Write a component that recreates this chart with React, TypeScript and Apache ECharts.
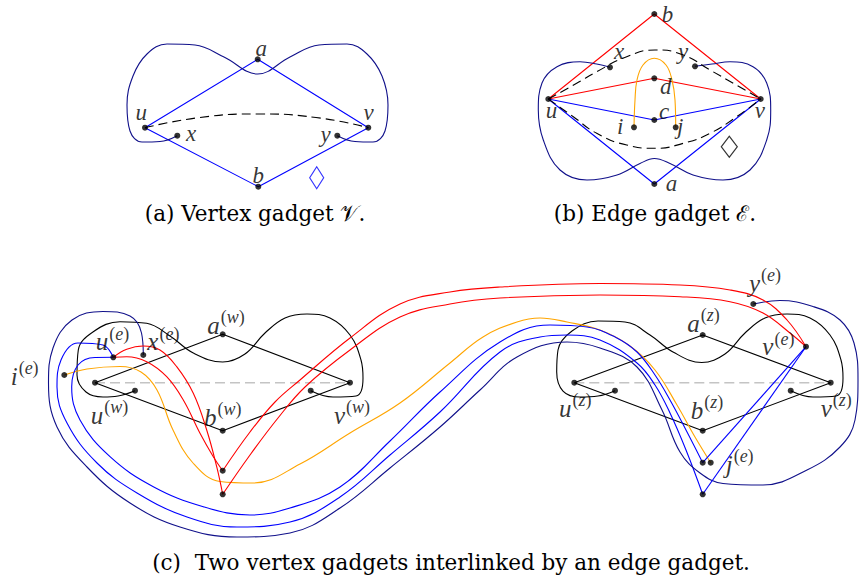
import React, { useEffect, useRef } from "react";
import * as echarts from "echarts";

type P = [number, number];

// ---------- Panel (a): vertex gadget ----------
const aDots: P[] = [[257.7, 59.3], [145, 127.7], [368.3, 127.7], [258.3, 186.7], [177.3, 135.7], [337.3, 135.7]];
const aRhombus: P[] = [[145, 127.7], [257.7, 59.3], [368.3, 127.7], [258.3, 186.7], [145, 127.7]];
const aLoop: P[] = [[177.3, 135.7], [160, 141.5], [142, 142], [130, 131], [127, 105], [133, 76], [147, 54], [167, 44], [195, 45], [224, 57], [257.7, 74], [290, 57], [319, 45], [347, 44], [367, 54], [382, 76], [388, 105], [385, 131], [373, 142], [355, 141.5], [337.3, 135.7]];
const aDash: P[] = [[145, 127.7], [200, 117.5], [258, 114], [316, 117.5], [368.3, 127.7]];
const aMarker: P[] = [[316.7, 177.7]];
const aLabels: [string, string, number, number][] = [["a", "", 261.5, 48.5], ["u", "", 141.5, 112], ["v", "", 369.5, 112], ["x", "", 192, 133], ["y", "", 326.5, 134], ["b", "", 258.5, 175.5]];

// ---------- Panel (b): edge gadget ----------
const bDots: P[] = [[654.3, 14], [610, 67.3], [695, 66.3], [654.3, 78.3], [548.3, 99], [760.7, 99], [654.3, 120], [634, 127.3], [675.7, 127.3], [654.3, 184]];
const bRed1: P[] = [[548.3, 99], [654.3, 14], [760.7, 99]];
const bRed2: P[] = [[548.3, 99], [654.3, 78.3], [760.7, 99]];
const bBlue1: P[] = [[548.3, 99], [654.3, 120], [760.7, 99]];
const bBlue2: P[] = [[548.3, 99], [654.3, 184], [760.7, 99]];
const bLoop: P[] = [[610, 67.3], [596.7, 64], [580, 61.7], [557, 66.7], [542, 83], [538.3, 110], [543.3, 140], [560, 170], [587, 180], [617, 175], [640, 163.5], [654.3, 158.5], [670, 163.5], [693, 175], [723, 180], [750, 170], [766.7, 140], [770.7, 110], [766.7, 83], [753, 66.7], [730, 61.7], [712, 64], [695, 66.3]];
const bDashUp: P[] = [[548.3, 99], [576.7, 83.3], [596.7, 71.7], [626.7, 56.7], [655, 50], [683.3, 55], [710, 70], [733.3, 83.3], [760.7, 99]];
const bDashDown: P[] = [[548.3, 99], [573.3, 116.7], [596.7, 133.3], [626.7, 145], [655, 148.3], [683.3, 143.3], [710, 133.3], [736.7, 116.7], [760.7, 99]];
const bOrange: P[] = [[634, 127.3], [635, 100], [637, 80], [643, 65], [654.3, 58.3], [666, 65], [672, 80], [675, 100], [675.7, 127.3]];
const bMarker: P[] = [[729.3, 146.7]];
const bLabels: [string, string, number, number][] = [["b", "", 667.7, 14], ["x", "", 620, 51.7], ["y", "", 684, 51.7], ["d", "", 666, 86], ["c", "", 665, 111.5], ["u", "", 551.7, 110], ["v", "", 760.7, 110], ["i", "", 623, 126.7], ["j", "", 683, 126.7], ["a", "", 671.7, 183.3]];

// ---------- Panel (c): two vertex gadgets + edge gadget ----------
const cDots: P[] = [
  [222.7, 334.3], [95, 382.7], [350, 382.7], [222.7, 430.7], [135, 390.7], [310.7, 390.7],
  [113.3, 357.3], [143.3, 355], [64.3, 375], [222.7, 470.7], [222.7, 494.3],
  [702.7, 335], [574.3, 382.7], [830.7, 382.7], [702.7, 430.7], [615, 390.7], [790.7, 390.7],
  [753.3, 304], [806, 346.7], [702.7, 462.7], [710.7, 462.7], [702.7, 494.3],
];
const cRhombusW: P[] = [[95, 382.7], [222.7, 334.3], [350, 382.7], [222.7, 430.7], [95, 382.7]];
const cRhombusZ: P[] = [[574.3, 382.7], [702.7, 335], [830.7, 382.7], [702.7, 430.7], [574.3, 382.7]];
const cGrayW: P[] = [[95, 382.7], [350, 382.7]];
const cGrayZ: P[] = [[574.3, 382.7], [830.7, 382.7]];
const cLoopW: P[] = [[135, 390.7], [118, 396], [103, 397], [86, 392], [77, 375], [78.3, 350], [93.3, 331.7], [120, 321.7], [146.7, 323.3], [170, 336], [193.3, 353], [222.7, 362], [245, 354], [265, 333], [285, 318], [307, 314], [330, 318], [350, 335], [361, 360], [363, 378], [356, 396], [333, 397], [310.7, 390.7]];
const cLoopZ: P[] = [[615, 390.7], [598, 396], [580, 397], [563, 391], [556.7, 372], [558, 350], [572, 331], [598, 321], [625, 322], [650, 335], [673, 352], [701.7, 362.5], [725, 354], [745, 333], [765, 318], [787, 314], [810, 318], [830, 335], [841, 360], [843, 378], [836, 396], [813, 397], [790.7, 390.7]];
const cOrange: P[] = [[64.3, 375], [87, 369], [120, 366.5], [141, 372], [157, 390], [173, 430], [193, 463], [220, 481.5], [253, 483], [300, 464], [350, 433], [400, 403], [450, 363], [483, 337], [517, 322], [540, 318], [567, 322], [600, 330], [630, 346], [655, 370], [677, 405], [695, 437], [710.7, 462.7]];
const cBlueInner: P[] = [[113.3, 357.3], [95, 357.5], [78, 365], [71.7, 386.7], [80, 420], [110, 456.7], [153.3, 486.7], [203.3, 506.7], [250, 515], [290, 508], [340, 487], [390, 441], [440, 392], [500, 342], [550, 325], [587, 327], [615, 337], [637, 352], [655, 375], [670, 400], [686, 430], [702.7, 462.7]];
const cBlueOuter: P[] = [[113.3, 357.3], [103, 345], [78, 343], [61, 360], [57, 387], [67, 423], [97, 463], [137, 493], [187, 517], [237, 527], [290, 522], [340, 497], [390, 455], [440, 412], [500, 352], [540, 337], [567, 335], [600, 340], [637, 363], [655, 385], [670, 413], [686, 450], [702.7, 494.3]];
const cNavy: P[] = [[143.3, 355], [141.5, 333], [130, 316], [103, 311.5], [72, 320], [53, 348], [48.5, 383], [57, 427], [87, 467], [130, 503], [180, 527], [237, 537], [290, 533], [340, 508], [390, 468], [440, 427], [480, 390], [517, 357], [567, 342], [600, 348], [637, 367], [662, 410], [680, 452], [700, 473], [723, 483.5], [763, 485], [807, 470], [840, 447], [855, 420], [858, 380], [854, 343], [840, 320], [813, 306.5], [780, 300.5], [753.3, 304]];
const cRedA: P[] = [[113.3, 357.3], [126.7, 356.7], [146.7, 361.7], [166.7, 376.7], [183.3, 400], [200, 433.3], [213.3, 456.7], [222.7, 470.7]];
const cRedB: P[] = [[113.3, 357.3], [126.7, 349.3], [143.3, 346], [160, 350], [176.7, 366.7], [193.3, 393.3], [206.7, 430], [216.7, 466.7], [222.7, 494.3]];
const cRedC: P[] = [[222.7, 470.7], [250, 432], [275, 402], [300, 380], [350, 338], [400, 304], [450, 292], [500, 287], [600, 283.5], [680, 285], [730, 290], [763, 300], [787, 320], [806, 346.7]];
const cRedD: P[] = [[222.7, 494.3], [250, 455], [278, 418], [305, 387], [350, 350], [400, 317], [450, 304], [500, 298], [600, 295], [680, 296.7], [730, 301.7], [763, 313], [790, 333], [806, 346.7]];
const cBlueLine1: P[] = [[806, 346.7], [702.7, 462.7]];
const cBlueLine2: P[] = [[806, 346.7], [702.7, 494.3]];
const cLabels: [string, string, number, number][] = [
  ["a", "w", 213.3, 325], ["u", "e", 101.7, 341.7], ["x", "e", 153.3, 341.7], ["i", "e", 16.7, 376],
  ["u", "w", 96.7, 415], ["b", "w", 210, 417], ["v", "w", 340, 415],
  ["a", "z", 693.3, 323.3], ["v", "e", 768.3, 346.7], ["y", "e", 755, 283], ["u", "z", 565, 408.3],
  ["b", "z", 696.7, 410], ["v", "z", 826.7, 408.3], ["j", "e", 731.7, 464],
];

const BLUE = "#0000ff";
const RED = "#ff0000";
const ORANGE = "#ffa500";
const NAVY = "#10108a";
const LFONT = "Liberation Serif, Times New Roman, serif";
const CFONT = "DejaVu Serif, Liberation Serif, serif";

function line(data: P[], color: string, smooth: number | false = false, dash: number[] | null = null, width = 1.1, z = 2) {
  return {
    type: "line",
    data,
    smooth,
    symbol: "none",
    showSymbol: false,
    silent: true,
    clip: false,
    z,
    lineStyle: { color, width, type: dash ? dash : "solid", cap: "butt" },
  };
}

function dots(data: P[]) {
  return { type: "scatter", data, symbol: "circle", symbolSize: 6, itemStyle: { color: "#000" }, z: 10, silent: true };
}

function marker(data: P[], color: string, size: [number, number]) {
  return {
    type: "scatter",
    data,
    symbol: "diamond",
    symbolSize: size,
    itemStyle: { color: "rgba(0,0,0,0)", borderColor: color, borderWidth: 1.2 },
    z: 10,
    silent: true,
  };
}

function labels(list: [string, string, number, number][]) {
  return {
    type: "scatter",
    symbolSize: 0,
    silent: true,
    z: 12,
    data: list.map((l) => ({ value: [l[2], l[3]], t: l[0], s: l[1] })),
    label: {
      show: true,
      position: "right",
      distance: 0,
      offset: [-6, 0],
      formatter: (p: any) => {
        const d = p.data;
        return d.s ? `{m|${d.t}}{p|(}{q|${d.s}}{r|)}` : `{n|${d.t}}`;
      },
      rich: {
        n: { fontFamily: LFONT, fontStyle: "italic", fontSize: 23, lineHeight: 18, color: "#000" },
        m: { fontFamily: LFONT, fontStyle: "italic", fontSize: 25, lineHeight: 34, color: "#000" },
        p: { fontFamily: LFONT, fontSize: 18, lineHeight: 18, verticalAlign: "top", color: "#000", padding: [0, 0, 0, 1] },
        q: { fontFamily: LFONT, fontStyle: "italic", fontSize: 18, lineHeight: 18, verticalAlign: "top", color: "#000" },
        r: { fontFamily: LFONT, fontSize: 18, lineHeight: 18, verticalAlign: "top", color: "#000" },
      },
    },
  };
}

export default function App() {
  const ref = useRef<HTMLDivElement>(null);
  useEffect(() => {
    const chart = echarts.init(ref.current!, null, { renderer: "svg" });
    const capStyle = { fontFamily: CFONT, fontSize: 21.5, fill: "#000", align: "center", verticalAlign: "middle" };
    const option: any = {
      animation: false,
      backgroundColor: "#fff",
      grid: { left: 0, right: 0, top: 0, bottom: 0, containLabel: false },
      xAxis: { type: "value", min: 0, max: 860, show: false },
      yAxis: { type: "value", min: 0, max: 580, inverse: true, show: false },
      series: [
        // panel a
        line(aRhombus, BLUE),
        line(aLoop, NAVY, 0.4),
        line(aDash, "#000", 0.5, [9, 5]),
        marker(aMarker, BLUE, [14, 22]),
        dots(aDots),
        labels(aLabels),
        // panel b
        line(bRed1, RED),
        line(bRed2, RED),
        line(bBlue1, BLUE),
        line(bBlue2, BLUE),
        line(bLoop, NAVY, 0.4),
        line(bDashUp, "#000", 0.5, [9, 5]),
        line(bDashDown, "#000", 0.5, [9, 5]),
        line(bOrange, ORANGE, 0.4),
        marker(bMarker, "#000", [16, 21]),
        dots(bDots),
        labels(bLabels),
        // panel c
        line(cGrayW, "#c4c4c4", false, [10, 5], 1.4, 1),
        line(cGrayZ, "#c4c4c4", false, [10, 5], 1.4, 1),
        line(cRhombusW, "#000"),
        line(cRhombusZ, "#000"),
        line(cLoopW, "#000", 0.4),
        line(cLoopZ, "#000", 0.4),
        line(cOrange, ORANGE, 0.4, null, 1.1, 3),
        line(cBlueInner, BLUE, 0.4, null, 1.1, 3),
        line(cBlueOuter, BLUE, 0.4, null, 1.1, 3),
        line(cNavy, NAVY, 0.4, null, 1.1, 3),
        line(cRedA, RED, 0.4, null, 1.1, 3),
        line(cRedB, RED, 0.4, null, 1.1, 3),
        line(cRedC, RED, 0.4, null, 1.1, 3),
        line(cRedD, RED, 0.4, null, 1.1, 3),
        line(cBlueLine1, BLUE, false, null, 1.1, 3),
        line(cBlueLine2, BLUE, false, null, 1.1, 3),
        dots(cDots),
        labels(cLabels),
      ],
      graphic: [
        { type: "text", x: 255, y: 213, style: { ...capStyle, text: "(a) Vertex gadget 𝒱." } },
        { type: "text", x: 655, y: 213, style: { ...capStyle, text: "(b) Edge gadget ℰ." } },
        { type: "text", x: 451, y: 562, style: { ...capStyle, text: "(c)  Two vertex gadgets interlinked by an edge gadget." } },
      ],
    };
    chart.setOption(option);
    return () => chart.dispose();
  }, []);
  return <div ref={ref} style={{ position: "absolute", left: 0, top: 0, width: 860, height: 580, background: "#fff" }} />;
}
